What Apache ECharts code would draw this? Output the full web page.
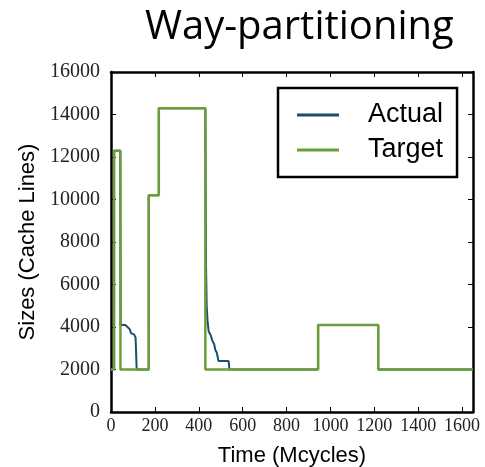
<!DOCTYPE html>
<html>
<head>
<meta charset="utf-8">
<script src="https://cdn.jsdelivr.net/npm/echarts@6/dist/echarts.min.js"></script>
<style>html,body{margin:0;padding:0;background:#fff}#c{width:485px;height:467px}</style>
</head>
<body>
<div id="c"></div>
<script>
// Data
const titleText = 'Way-partitioning';
const xName = 'Time (Mcycles)';
const yName = 'Sizes (Cache Lines)';
const seriesNames = ['Actual', 'Target'];
const xTicks = [0, 200, 400, 600, 800, 1000, 1200, 1400, 1600];
const yTicks = [0, 2000, 4000, 6000, 8000, 10000, 12000, 14000, 16000];

const targetTime = [0, 14, 14, 43, 43, 172, 172, 218, 218, 430, 430, 944, 944, 1218, 1218, 1650];
const targetSize = [2000, 2000, 12300, 12300, 2000, 2000, 10200, 10200, 14300, 14300, 2000, 2000, 4100, 4100, 2000, 2000];

const actualTime = [0, 14, 14, 42, 44, 65, 75, 85, 92, 105, 112, 117, 172, 172, 218, 218, 430, 433, 436, 440, 445, 455, 462, 470, 476, 482, 490, 536, 540, 944, 944, 1218, 1218, 1650];
const actualSize = [2000, 2000, 12300, 12300, 4100, 4100, 4000, 3900, 3700, 3650, 3500, 2000, 2000, 10200, 10200, 14300, 14300, 7000, 5000, 4300, 3800, 3600, 3350, 3200, 2900, 2800, 2400, 2400, 2000, 2000, 4100, 4100, 2000, 2000];

const pairs = (xs, ys) => xs.map((x, i) => [x, ys[i]]);

const chart = echarts.init(document.getElementById('c'), null, {renderer: 'canvas'});
const axisLine = {show: true, onZero: false, lineStyle: {color: '#000', width: 2.5}};
const tick = {show: true, inside: true, length: 5, lineStyle: {color: '#000', width: 1}};
const xMin = xTicks[0], xMax = 1650, yMin = yTicks[0], yMax = yTicks[yTicks.length - 1];
const plain = v => String(v);

chart.setOption({
  backgroundColor: '#fff',
  animation: false,
  title: {
    text: titleText, left: 140, top: 3,
    textStyle: {fontFamily: 'Open Sans', fontWeight: 'normal', fontSize: 40, color: '#000'}
  },
  legend: {
    orient: 'vertical', left: 278, top: 88,
    width: 184,
    padding: [12, 14, 12, 19],
    borderColor: '#000', borderWidth: 2.5,
    backgroundColor: '#fff',
    icon: 'rect', itemWidth: 42, itemHeight: 3, itemGap: 5,
    textStyle: {fontFamily: 'Liberation Sans', fontSize: 27, color: '#000', padding: [0, 0, 0, 24], lineHeight: 30},
    data: seriesNames
  },
  grid: {left: 111, right: 12, top: 72, bottom: 55, containLabel: false, outerBoundsMode: 'none'},
  xAxis: [{
    type: 'value', min: xMin, max: xMax, interval: 200,
    name: xName, nameLocation: 'middle', nameGap: 33,
    nameTextStyle: {fontFamily: 'Liberation Sans', fontSize: 22, color: '#000', verticalAlign: 'top'},
    axisLine: axisLine, axisTick: tick,
    axisLabel: {margin: 5, fontFamily: 'Liberation Serif', fontSize: 18, color: '#222', formatter: plain, showMaxLabel: false, showMinLabel: true},
    splitLine: {show: false}
  }, {
    type: 'value', position: 'top', min: xMin, max: xMax, interval: 200,
    axisLine: axisLine, axisTick: tick, axisLabel: {show: false}, splitLine: {show: false}
  }],
  yAxis: [{
    type: 'value', min: yMin, max: yMax, interval: 2000,
    name: yName, nameLocation: 'middle', nameGap: 72,
    nameTextStyle: {fontFamily: 'Liberation Sans', fontSize: 22, color: '#000'},
    axisLine: axisLine, axisTick: tick,
    axisLabel: {margin: 11, fontFamily: 'Liberation Serif', fontSize: 20, color: '#222', formatter: plain},
    splitLine: {show: false}
  }, {
    type: 'value', position: 'right', min: yMin, max: yMax, interval: 2000,
    axisLine: axisLine, axisTick: tick, axisLabel: {show: false}, splitLine: {show: false}
  }],
  series: [{
    name: seriesNames[0], type: 'line', data: pairs(actualTime, actualSize),
    symbol: 'none', color: '#1b4d6e', lineStyle: {width: 2, color: '#1b4d6e'}, z: 2
  }, {
    name: seriesNames[1], type: 'line', data: pairs(targetTime, targetSize),
    symbol: 'none', color: '#6b9e3a', lineStyle: {width: 2.5, color: '#6b9e3a'}, z: 3
  }]
});
</script>
</body>
</html>
